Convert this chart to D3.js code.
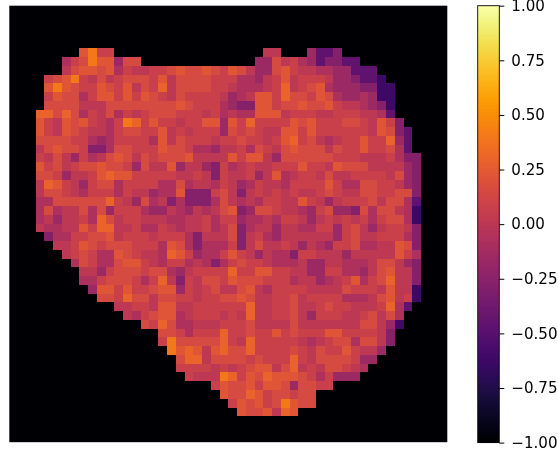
<!DOCTYPE html>
<html>
<head>
<meta charset="utf-8">
<script src="https://cdn.jsdelivr.net/npm/d3@7"></script>
<style>
    html, body { margin: 0; padding: 0; background: #fff; overflow: hidden; }
    svg { display: block; filter: blur(0.45px); }
</style>
</head>
<body>
<svg id="chart" width="558" height="454"></svg>
<script>
// colour level read off each cell, '.' is a cell with no data (black)
const levelValues = {
    "0": -0.62, "1": -0.46, "2": -0.27, "3": -0.16, "4": -0.07, "5": 0.01,
    "6": 0.08, "7": 0.15, "8": 0.22, "9": 0.3, "A": 0.4
};

const gridRows = [
    "........8A 66........ .........5 5...3112.. ..........",
    "......467A 88377..... ........33 7564312211 ..........",
    "......5788 7846556678 7787687533 7865544331 11........",
    "....678A65 7567776857 7776664435 6856665332 110.......",
    "....8A8766 8768576957 7776654445 6956784333 2200......",
    "....687746 8868687657 6666534588 6977687433 4300......",
    "....777755 5777777778 7666432288 6778778655 4320......",
    "...9979746 5746567776 6656454488 8566655666 5541......",
    "...8658786 546A968665 6688386966 6687866677 65862.....",
    "...8658765 5467766856 5666376765 5886866666 658721....",
    "...7777664 3466664857 6665667665 6896754566 866931....",
    "...5787762 2477666877 6443556476 5787775766 866741....",
    "...6575364 5787576777 8555586885 3777777666 5556422...",
    "...8675677 8776375583 5532645655 6668665877 7555532...",
    "...7763556 8988666665 5652655635 8456657556 6665732...",
    "...5986536 7746666447 4554653465 5466668644 7766532...",
    "...5776546 6646553448 2226752565 6565567655 7766772...",
    "...4477777 7965374524 2224754546 6558653566 6757741...",
    "...4745574 7366643354 3545782377 6554367332 7477540...",
    "...4535564 9756655544 5564663445 4665356565 6467740...",
    "...5445586 9955644654 5564572455 3554466367 5356652...",
    "....244667 7856665666 4255572564 3555555367 5566642...",
    ".....55687 6777666487 4244462575 5653543667 4455872...",
    "......5676 4487655498 6344686535 4426655535 5555864...",
    ".......476 4478865466 4542467665 4445335544 4577532...",
    "........55 3677767743 5666696688 6655336644 3578552...",
    "........44 6777646952 6577687776 6645534568 4679552...",
    ".........3 8868667883 6567557854 6666555576 6658550...",
    ".......... 7769775776 6566778755 6675666644 4578560...",
    ".......... ..55665885 5666666955 6675567665 556941....",
    ".......... ...5467884 5666565955 6675366655 67574.....",
    ".......... .....76974 4555666755 5575555555 77530.....",
    ".......... .......776 4666966766 8676668866 6652......",
    ".......... .......6A7 7777965966 6665456774 7752......",
    ".......... ........A8 9858977966 6676576686 553.......",
    ".......... .........7 9957777676 6696577776 33........",
    ".......... .........6 6665656788 5795657765 4.........",
    ".......... .......... 6555A96879 8887646333 ..........",
    ".......... .......... ...6877868 8737766... ..........",
    ".......... .......... ....877986 77677..... ..........",
    ".......... .......... .....68786 7A877..... ..........",
    ".......... .......... ......8778 598....... .........."
];

const colorbarTicks = [-1, -0.75, -0.5, -0.25, 0, 0.25, 0.5, 0.75, 1];

function drawHeatmap(svgId) {
    const svg = d3.select(`#${svgId}`);
    const plot = { left: 9.3, top: 5.7, right: 447.3, bottom: 442.2 };
    const bar = { left: 477.7, right: 499.3, top: 5.7, bottom: 442.6 };

    const colorOf = v => d3.interpolateInferno((v + 1) / 2);

    const xScale = d3.scaleLinear().domain([0, 50]).range([plot.left, plot.right]);
    // the first data row sits a little under 5 rows below the top edge
    const yScale = d3.scaleLinear().domain([-4.87, 44.96]).range([plot.top, plot.bottom]);

    svg.append("rect")
        .attr("x", plot.left)
        .attr("y", plot.top)
        .attr("width", plot.right - plot.left)
        .attr("height", plot.bottom - plot.top)
        .attr("fill", colorOf(-1));

    const cells = [];
    gridRows.forEach((line, row) => {
        line.replace(/ /g, "").split("").forEach((ch, col) => {
            if (ch !== ".") cells.push({ row, col, value: levelValues[ch] });
        });
    });

    svg.append("g")
        .attr("shape-rendering", "crispEdges")
        .selectAll("rect")
        .data(cells)
        .enter()
        .append("rect")
        .attr("x", d => xScale(d.col))
        .attr("y", d => yScale(d.row))
        .attr("width", d => xScale(d.col + 1) - xScale(d.col))
        .attr("height", d => yScale(d.row + 1) - yScale(d.row))
        .attr("fill", d => colorOf(d.value));

    // colorbar
    const barScale = d3.scaleLinear().domain([-1, 1]).range([bar.bottom, bar.top]);
    const barSteps = d3.range(256).map(i => -1 + (i * 2) / 256);

    svg.append("g")
        .attr("shape-rendering", "crispEdges")
        .selectAll("rect")
        .data(barSteps)
        .enter()
        .append("rect")
        .attr("x", bar.left)
        .attr("y", d => barScale(d + 2 / 256))
        .attr("width", bar.right - bar.left)
        .attr("height", d => barScale(d) - barScale(d + 2 / 256) + 0.5)
        .attr("fill", d => colorOf(d + 1 / 256));

    svg.append("rect")
        .attr("x", bar.left)
        .attr("y", bar.top)
        .attr("width", bar.right - bar.left)
        .attr("height", bar.bottom - bar.top)
        .attr("fill", "none")
        .attr("stroke", "#000")
        .attr("stroke-width", 0.9);

    const barAxis = svg.append("g")
        .attr("transform", `translate(${bar.right},0)`)
        .call(d3.axisRight(barScale)
            .tickValues(colorbarTicks)
            .tickSize(5)
            .tickPadding(7)
            .tickFormat(d => d3.format(".2f")(d).replace("-", "\u2212")));

    barAxis.select(".domain").remove();
    barAxis.selectAll("line").attr("stroke", "#000").attr("stroke-width", 1);
    barAxis.selectAll("text")
        .attr("fill", "#000")
        .attr("font-family", "DejaVu Sans")
        .attr("font-size", 15.1);
}

drawHeatmap("chart");
</script>
</body>
</html>
